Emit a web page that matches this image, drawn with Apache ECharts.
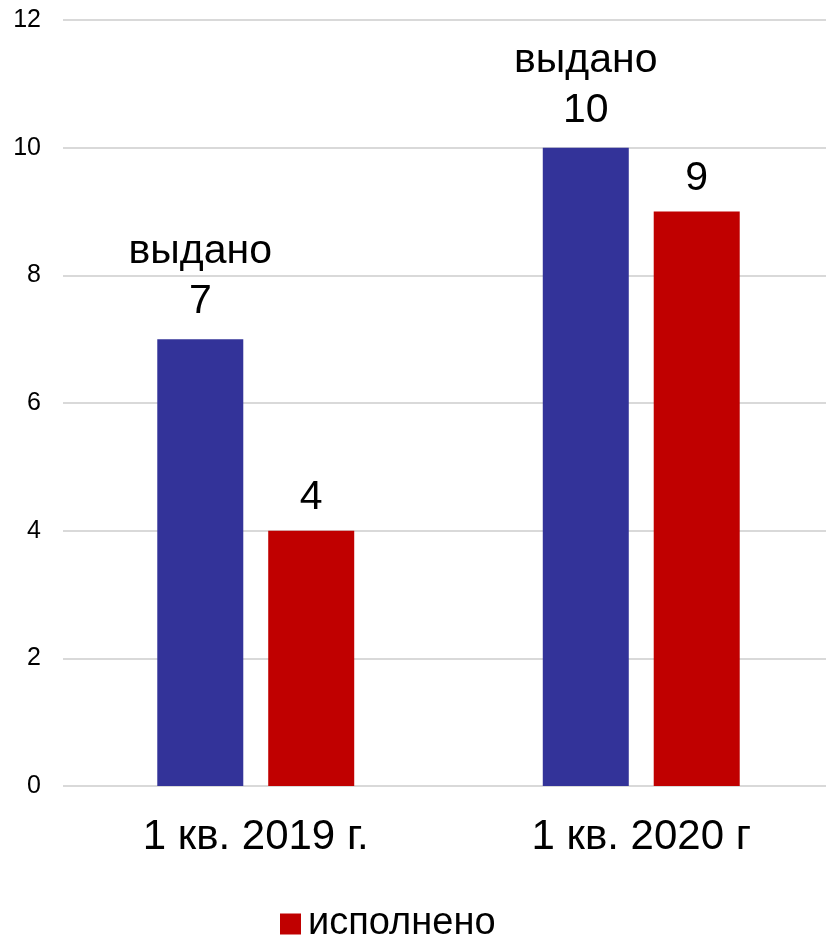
<!DOCTYPE html>
<html>
<head>
<meta charset="utf-8">
<script src="https://cdn.jsdelivr.net/npm/echarts@6/dist/echarts.min.js"></script>
<style>
  html, body { margin: 0; padding: 0; background: #fff; }
  #chart { width: 826px; height: 938px; }
</style>
</head>
<body>
<div id="chart"></div>
<script type="text/javascript">
var categories = ['1 кв. 2019 г.', '1 кв. 2020 г'];
var issued = [7, 10];
var done = [4, 9];
var yTicks = [0, 2, 4, 6, 8, 10, 12];

var chart = echarts.init(document.getElementById('chart'));
var font = '"Liberation Sans", Arial, sans-serif';

var option = {
  animation: false,
  textStyle: { fontFamily: font },
  grid: { left: 63, width: 771, top: 20, height: 766, outerBoundsMode: 'none', containLabel: false },
  legend: {
    data: ['исполнено'],
    top: 900,
    left: 275,
    icon: 'rect',
    itemWidth: 21,
    itemHeight: 21,
    itemGap: 12,
    textStyle: { fontSize: 38, color: '#000', fontFamily: font, padding: [0, 0, 0, 2] }
  },
  xAxis: {
    type: 'category',
    data: categories,
    axisLine: { show: false },
    axisTick: { show: false },
    axisLabel: { fontSize: 42, color: '#000', margin: 30, fontFamily: font }
  },
  yAxis: {
    type: 'value',
    min: yTicks[0],
    max: yTicks[yTicks.length - 1],
    interval: 2,
    axisLine: { show: false },
    axisTick: { show: false },
    axisLabel: { fontSize: 25, color: '#000', margin: 22, fontFamily: font },
    splitLine: { lineStyle: { color: '#d9d9d9', width: 2 } }
  },
  series: [
    {
      name: 'выдано',
      type: 'bar',
      data: issued,
      barWidth: 86,
      barGap: '29%',
      itemStyle: { color: '#333399' },
      label: {
        show: true,
        position: 'top',
        distance: 12,
        formatter: 'выдано\n{c}',
        fontSize: 41,
        lineHeight: 50,
        color: '#000',
        fontFamily: font
      }
    },
    {
      name: 'исполнено',
      type: 'bar',
      data: done,
      barWidth: 86,
      itemStyle: { color: '#c00000' },
      label: {
        show: true,
        position: 'top',
        distance: 12,
        fontSize: 41,
        color: '#000',
        fontFamily: font
      }
    }
  ]
};

chart.setOption(option);
</script>
</body>
</html>
